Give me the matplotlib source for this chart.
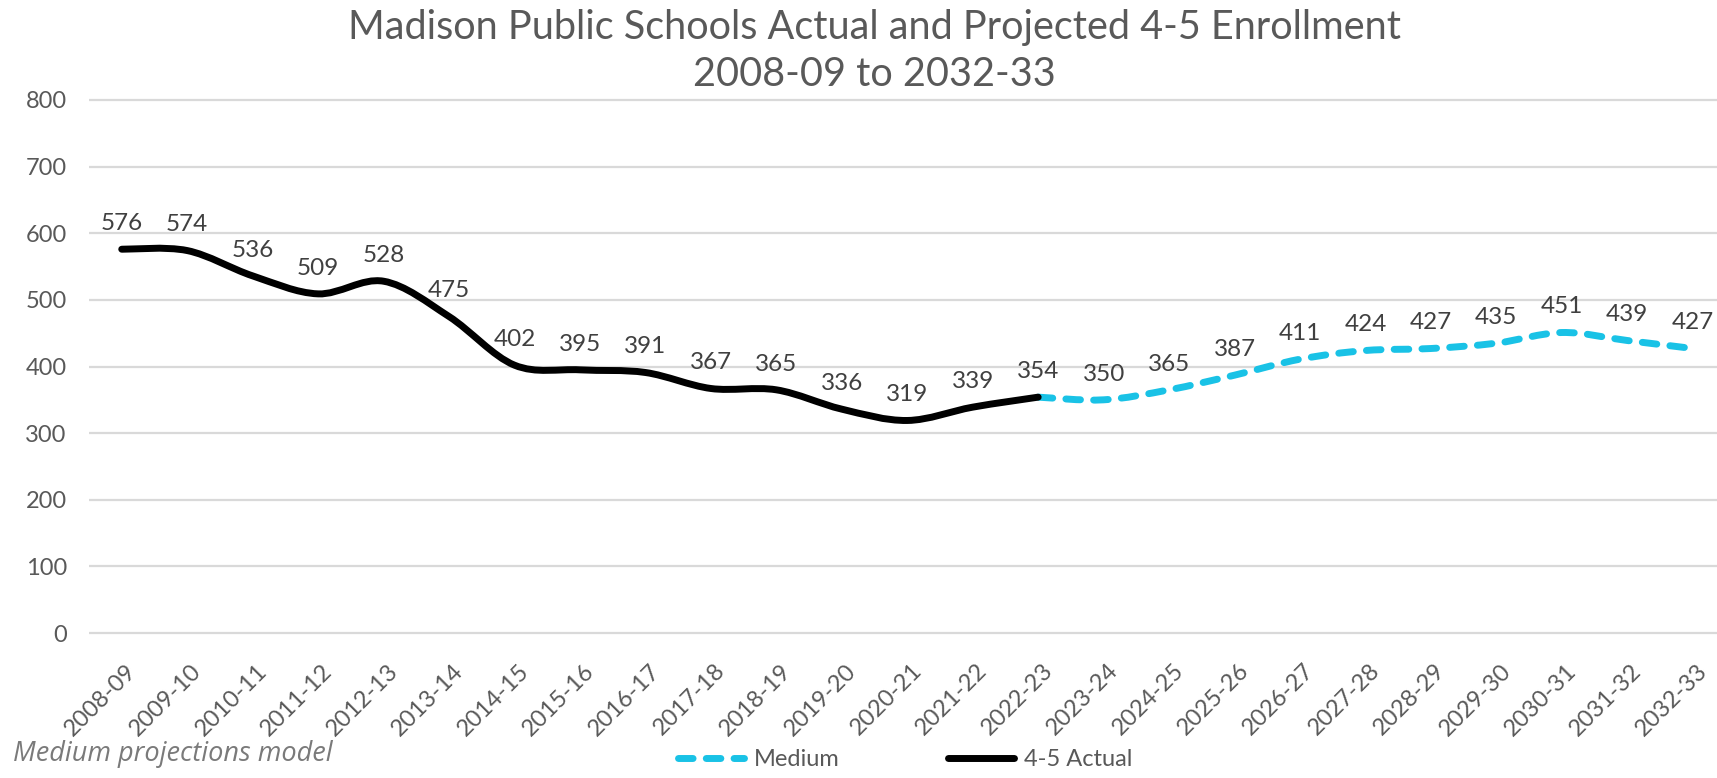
import matplotlib
matplotlib.use("Agg")
import matplotlib.pyplot as plt
from matplotlib.path import Path
from matplotlib.patches import PathPatch
from matplotlib.lines import Line2D
from matplotlib.transforms import ScaledTranslation

# --- Data ---
years = ["2008-09", "2009-10", "2010-11", "2011-12", "2012-13", "2013-14",
         "2014-15", "2015-16", "2016-17", "2017-18", "2018-19", "2019-20",
         "2020-21", "2021-22", "2022-23", "2023-24", "2024-25", "2025-26",
         "2026-27", "2027-28", "2028-29", "2029-30", "2030-31", "2031-32",
         "2032-33"]
actual = [576, 574, 536, 509, 528, 475, 402, 395, 391, 367, 365, 336, 319,
          339, 354]
medium = [354, 350, 365, 387, 411, 424, 427, 435, 451, 439, 427]
medium_start = 14  # medium series begins at 2022-23

CYAN = "#19C2E6"
TEXT = "#595959"
FONT = "Lato"

plt.rcParams["font.family"] = [FONT, "DejaVu Sans"]


def smooth_path(xs, ys):
    # Excel-style smoothed line as cubic Bezier segments through the points
    n = len(xs)
    verts = [(xs[0], ys[0])]
    codes = [Path.MOVETO]
    for i in range(n - 1):
        a = i - 1 if i > 0 else i
        d = i + 2 if i + 2 < n else i + 1
        c1 = (xs[i] + (xs[i + 1] - xs[a]) / 6, ys[i] + (ys[i + 1] - ys[a]) / 6)
        c2 = (xs[i + 1] - (xs[d] - xs[i]) / 6, ys[i + 1] - (ys[d] - ys[i]) / 6)
        verts += [c1, c2, (xs[i + 1], ys[i + 1])]
        codes += [Path.CURVE4] * 3
    return Path(verts, codes)


W, H = 1717, 778
fig = plt.figure(figsize=(W / 100, H / 100), dpi=100)

# axes placed in pixels: left edge 89, right edge 1717; y from -10 to 810
ax = fig.add_axes([89 / W, (H - 639.7) / H, (W - 89) / W, (639.7 - 93.3) / H])
ax.set_xlim(-0.5, 24.37)
ax.set_ylim(-10, 810)

for s in ax.spines.values():
    s.set_visible(False)
ax.set_yticks(range(0, 801, 100))
ax.yaxis.grid(True, color="#D9D9D9", linewidth=1.6)
ax.set_axisbelow(True)
ax.tick_params(axis="y", length=0, pad=16, labelsize=17, labelcolor=TEXT)

x_act = list(range(len(actual)))
x_med = list(range(medium_start, medium_start + len(medium)))

ax.add_patch(PathPatch(smooth_path(x_med, medium), fill=False, edgecolor=CYAN,
                       linewidth=5, linestyle=(0, (2.1, 1.9)),
                       capstyle="round", joinstyle="round", zorder=3))
ax.add_patch(PathPatch(smooth_path(x_act, actual), fill=False, edgecolor="black",
                       linewidth=5, capstyle="round", joinstyle="round",
                       zorder=4))

# data labels
for x, v in zip(x_act, actual):
    ax.annotate(str(v), (x, v), xytext=(0, 11), textcoords="offset points",
                ha="center", va="bottom", fontsize=17.5, color="#404040")
for x, v in zip(x_med[1:], medium[1:]):
    ax.annotate(str(v), (x, v), xytext=(0, 11), textcoords="offset points",
                ha="center", va="bottom", fontsize=17.5, color="#404040")

# rotated category labels
ax.set_xticks(range(len(years)))
ax.set_xticklabels(years, rotation=45, ha="right", va="center",
                   rotation_mode="anchor", fontsize=17, color=TEXT)
ax.tick_params(axis="x", length=0, pad=20)
shift = ScaledTranslation(11 / 100, 0, fig.dpi_scale_trans)
for lab in ax.get_xticklabels():
    lab.set_transform(lab.get_transform() + shift)

# title
fig.text(874 / W, 1 - 27 / H, "Madison Public Schools Actual and Projected 4-5 Enrollment",
         ha="center", va="center", fontsize=28.5, color=TEXT)
fig.text(874 / W, 1 - 74 / H, "2008-09 to 2032-33",
         ha="center", va="center", fontsize=28.5, color=TEXT)

# footnote
fig.text(13 / W, 1 - 754 / H, "Medium projections model", ha="left", va="center",
         fontsize=19.5, style="italic", color="#7A7A7A",
         family=["Open Sans", "DejaVu Sans"])

# legend
handles = [
    Line2D([], [], color=CYAN, linewidth=5, linestyle=(0, (2.1, 1.9)),
           dash_capstyle="round"),
    Line2D([], [], color="black", linewidth=5, solid_capstyle="round"),
]
fig.legend(handles, ["Medium", "4-5 Actual"], loc="center",
           bbox_to_anchor=(905 / W, 1 - 760 / H), ncol=2, frameon=False,
           fontsize=17, handlelength=2.8, handletextpad=0.4,
           columnspacing=4.6, labelcolor=TEXT)

fig.savefig("out.png", dpi=100)
